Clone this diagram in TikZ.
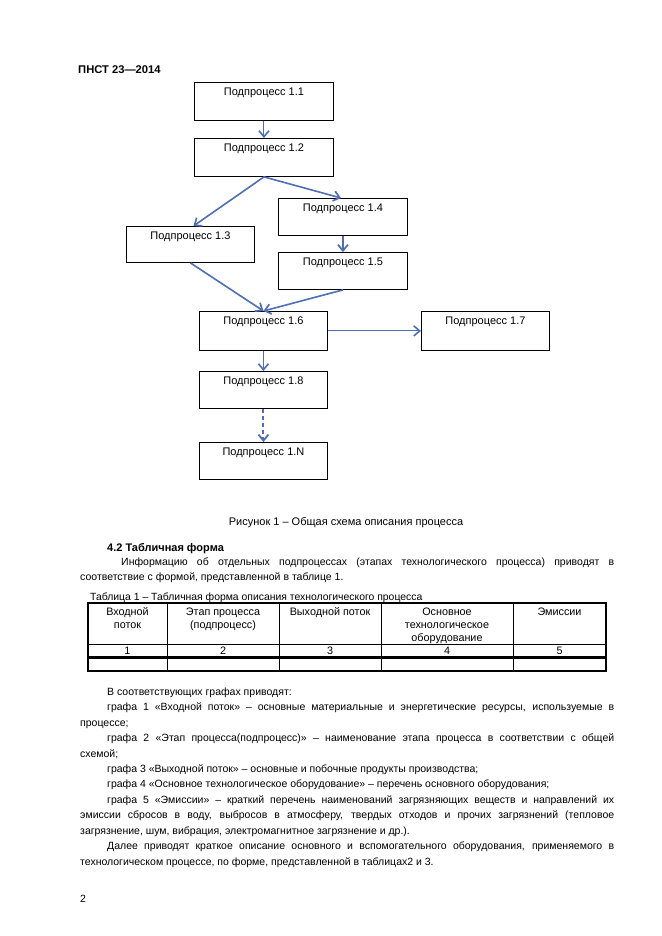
\documentclass[tikz,border=0pt]{standalone}
\usepackage{fontspec}
\setmainfont{Liberation Sans}
\usetikzlibrary{arrows.meta,calc}
\definecolor{arr}{HTML}{4F6EB5}
\tikzset{
  box/.style={draw=black, line width=0.9pt, anchor=north west, inner sep=0pt},
  lbl/.style={inner sep=0pt, font=\fontsize{11}{13}\selectfont},
  txt/.style={inner sep=0pt, anchor=base west, font=\fontsize{10.5}{13}\selectfont},
  cell/.style={inner sep=0pt, anchor=base, font=\fontsize{10.8}{13}\selectfont},
  con/.style={draw=arr, line width=1.6pt, -{Straight Barb[length=6pt,width=10pt,line width=1.7pt]}},
  conthin/.style={draw=arr, line width=1pt, -{Straight Barb[length=6pt,width=10pt,line width=1.6pt]}},
  condash/.style={draw=arr, line width=2pt, dash pattern=on 4pt off 3pt, -{Straight Barb[length=6pt,width=10pt,line width=1.8pt]}},
  tline/.style={draw=black, line width=1pt},
}
\newdimen\jstart
\newcommand{\jline}[1]{\makebox[\dimexpr614pt-\jstart\relax][s]{#1}}
\begin{document}
\begin{tikzpicture}[x=1pt,y=-1pt]
\useasboundingbox (0,0) rectangle (661,936);
\fill[white] (0,0) rectangle (661,936);

% header
\node[txt, font=\fontsize{11.2}{13}\selectfont\bfseries] (hdr) at (78,74) {ПНСТ 23—2014};

% boxes
\node[box, minimum width=139pt, minimum height=38pt] (b11) at (194,82) {};
\node[box, minimum width=139pt, minimum height=38pt] (b12) at (194,138) {};
\node[box, minimum width=128pt, minimum height=36pt] (b13) at (126,226) {};
\node[box, minimum width=129pt, minimum height=37pt] (b14) at (278,198) {};
\node[box, minimum width=129pt, minimum height=37pt] (b15) at (278,252) {};
\node[box, minimum width=128pt, minimum height=39pt] (b16) at (199,311) {};
\node[box, minimum width=128pt, minimum height=39pt] (b17) at (421,311) {};
\node[box, minimum width=128pt, minimum height=37pt] (b18) at (199,371) {};
\node[box, minimum width=128pt, minimum height=37pt] (b1N) at (199,442) {};

\node[lbl] (t11) at ($(b11.north)+(0,11)$) {Подпроцесс 1.1};
\node[lbl] (t12) at ($(b12.north)+(0,11)$) {Подпроцесс 1.2};
\node[lbl] (t13) at ($(b13.north)+(0,11)$) {Подпроцесс 1.3};
\node[lbl] (t14) at ($(b14.north)+(0,11)$) {Подпроцесс 1.4};
\node[lbl] (t15) at ($(b15.north)+(0,11)$) {Подпроцесс 1.5};
\node[lbl] (t16) at ($(b16.north)+(0,11)$) {Подпроцесс 1.6};
\node[lbl] (t17) at ($(b17.north)+(0,11)$) {Подпроцесс 1.7};
\node[lbl] (t18) at ($(b18.north)+(0,11)$) {Подпроцесс 1.8};
\node[lbl] (t1N) at ($(b1N.north)+(0,11)$) {Подпроцесс 1.N};

% connectors
\draw[conthin] (b11.south) -- (b12.north);
\draw[con] (b12.south) -- ($(b13.north)+(3,0)$);
\draw[con] (b12.south) -- ($(b14.north)+(-2,0)$);
\draw[con] (b14.south) -- (b15.north);
\draw[con] (b13.south) -- (b16.north);
\draw[con] (b15.south) -- (b16.north);
\draw[conthin] (b16.east) -- (b17.west);
\draw[conthin] (b16.south) -- (b18.north);
\draw[condash] (b18.south) -- (b1N.north);

% figure caption
\node[lbl] (fig) at (346,523) {Рисунок 1 – Общая схема описания процесса};

% section text
\node[txt, font=\fontsize{11}{13}\selectfont\bfseries] (h42) at (107,551) {4.2 Табличная форма};
\node[txt] (p1a) at (121,565) {\jstart=121pt\jline{Информацию об отдельных подпроцессах (этапах технологического процесса) приводят в}};
\node[txt] (p1b) at (80,580) {соответствие с формой, представленной в таблице 1.};

% table caption
\node[txt, font=\fontsize{10.4}{13}\selectfont] (tcap) at (90,600) {Таблица 1 – Табличная форма описания технологического процесса};

% table
\draw[tline, line width=1.5pt] (88,603) rectangle (606,671);
\draw[tline] (88,644.5) -- (606,644.5);
\draw[tline, line width=3pt] (88,657.5) -- (606,657.5);
\foreach \cx in {167,279,381,513} {\draw[tline] (\cx,603) -- (\cx,671);}
\node[cell] (c1a) at (127.5,615) {Входной};
\node[cell] (c1b) at (127.5,628) {поток};
\node[cell] (c2a) at (223,615) {Этап процесса};
\node[cell] (c2b) at (223,628) {(подпроцесс)};
\node[cell] (c3a) at (330,615) {Выходной поток};
\node[cell] (c4a) at (447,615) {Основное};
\node[cell] (c4b) at (447,628) {технологическое};
\node[cell] (c4c) at (447,641) {оборудование};
\node[cell] (c5a) at (559.5,615) {Эмиссии};
\node[cell] (n1) at (127.5,654) {1};
\node[cell] (n2) at (223,654) {2};
\node[cell] (n3) at (330,654) {3};
\node[cell] (n4) at (447,654) {4};
\node[cell] (n5) at (559.5,654) {5};

% body text
\node[txt] (q1) at (107,695) {В соответствующих графах приводят:};
\node[txt] (q2) at (107,710) {\jstart=107pt\jline{графа 1 «Входной поток» – основные материальные и энергетические ресурсы, используемые в}};
\node[txt] (q3) at (80,726) {процессе;};
\node[txt] (q4) at (107,741) {\jstart=107pt\jline{графа 2 «Этап процесса(подпроцесс)» – наименование этапа процесса в соответствии с общей}};
\node[txt] (q5) at (80,757) {схемой;};
\node[txt] (q6) at (107,772) {графа 3 «Выходной поток» – основные и побочные продукты производства;};
\node[txt] (q7) at (107,787) {графа 4 «Основное технологическое оборудование» – перечень основного оборудования;};
\node[txt] (q8) at (107,803) {\jstart=107pt\jline{графа 5 «Эмиссии» – краткий перечень наименований загрязняющих веществ и направлений их}};
\node[txt] (q9) at (80,818) {\jstart=80pt\jline{эмиссии сбросов в воду, выбросов в атмосферу, твердых отходов и прочих загрязнений (тепловое}};
\node[txt] (q10) at (80,834) {загрязнение, шум, вибрация, электромагнитное загрязнение и др.).};
\node[txt] (q11) at (107,849) {\jstart=107pt\jline{Далее приводят краткое описание основного и вспомогательного оборудования, применяемого в}};
\node[txt] (q12) at (80,865) {технологическом процессе, по форме, представленной в таблицах2 и 3.};

\node[txt] (pg) at (80,902) {2};
\end{tikzpicture}
\end{document}
